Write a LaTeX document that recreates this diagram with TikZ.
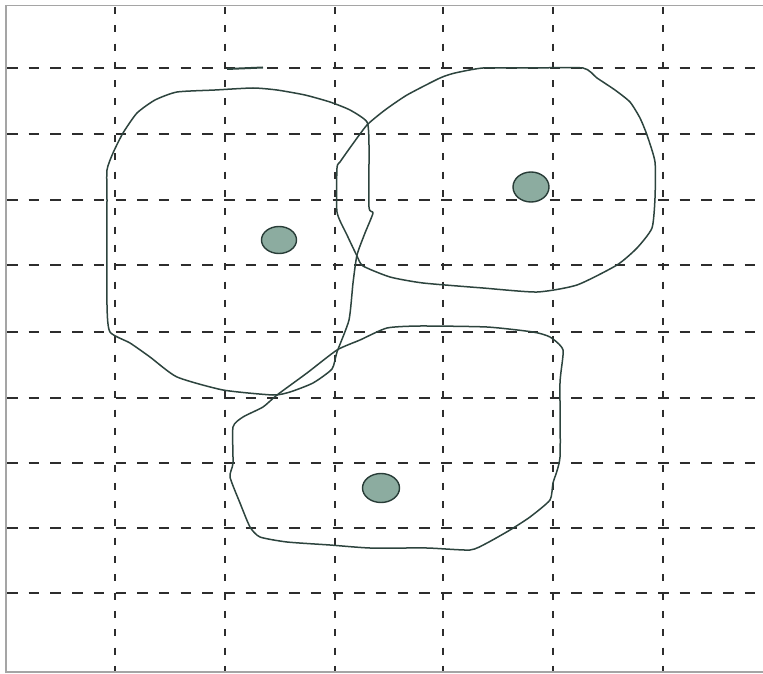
\documentclass[tikz,border=0pt]{standalone}
\usetikzlibrary{shapes.geometric}
\definecolor{gridc}{RGB}{45,45,45}
\definecolor{cellc}{RGB}{45,68,62}
\definecolor{dotfill}{RGB}{140,172,160}
\definecolor{dotline}{RGB}{40,60,55}
\definecolor{framec}{RGB}{165,165,165}
\begin{document}
\begin{tikzpicture}[x=1pt,y=-1pt,
  hgrid/.style={gridc, line width=2.2pt, dash pattern=on 10.5pt off 11.2pt},
  vgrid/.style={gridc, line width=2.2pt, dash pattern=on 7pt off 11.3pt},
  cell/.style={cellc, line width=1.5pt, line join=round},
  nucleus/.style={ellipse, draw=dotline, line width=1.4pt, fill=dotfill, inner sep=0pt},
  frame/.style={framec, line width=1.5pt}]
\useasboundingbox (0,0) rectangle (763,674);
\fill[white] (0,0) rectangle (763,674);
% frame
\draw[frame] (6,673) -- (6,5.5) -- (763,5.5);
\draw[frame] (6,672) -- (763,672);
% grid
\foreach \y in {68,134,200,265,332,398,463,528,593} \draw[hgrid] (7,\y) -- (763,\y);
\foreach \x in {115,225,335,443,553,663} \draw[vgrid] (\x,7) -- (\x,671);
% small stroke
\draw[cell, line width=2pt] (227,69) -- (263,67.5);
% cell A
\draw[cell] plot[smooth cycle, tension=0.35] coordinates {
 (107,200) (107,170) (113,153) (123,133) (137,113) (155,100) (177,92) (215,90)
 (253,88) (277,90) (305,95) (330,102) (350,110) (367,122) (369,145) (369,207)
 (373,213) (365,233) (357,255) (353,283) (349,320) (337,352) (332,369) (313,383)
 (290,392) (273,395) (223,390) (177,377) (150,357) (130,343) (110,332) (107,305)};
% cell B
\draw[cell] plot[smooth cycle, tension=0.35] coordinates {
 (483,68) (530,68) (583,68) (597,78) (615,90) (630,102) (640,118) (647,135)
 (655,162) (655,198) (652,228) (637,248) (617,265) (577,285) (537,292) (483,288)
 (423,283) (390,277) (363,266) (357,256) (347,235) (337,212) (337,168) (340,162)
 (352,145) (367,125) (385,110) (407,95) (440,78) (455,73)};
% cell C
\draw[cell] plot[smooth cycle, tension=0.35] coordinates {
 (233,427) (243,417) (263,407) (277,395) (307,373) (337,350) (360,340) (387,328)
 (420,326) (487,327) (533,332) (550,337) (563,350) (560,383) (560,457) (553,483)
 (550,500) (530,517) (510,530) (487,543) (470,550) (427,548) (370,548) (330,545)
 (287,542) (260,537) (250,527) (240,503) (230,477) (233,463)};
% nuclei
\node[nucleus, minimum width=35pt, minimum height=27pt] (nA) at (279,240) {};
\node[nucleus, minimum width=36pt, minimum height=30pt] (nB) at (531,187) {};
\node[nucleus, minimum width=37pt, minimum height=29pt] (nC) at (381,488) {};
\end{tikzpicture}
\end{document}
